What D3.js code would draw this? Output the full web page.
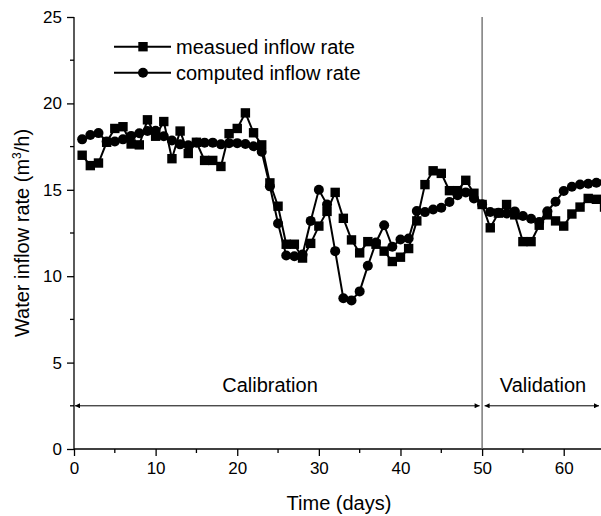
<!DOCTYPE html>
<html><head><meta charset="utf-8">
<script src="https://cdn.jsdelivr.net/npm/d3@7"></script>
<style>html,body{margin:0;padding:0;background:#fff;}svg{display:block;}text{font-family:Arial,"Liberation Sans",sans-serif;fill:#000;}</style>
</head><body>
<svg id="chart" width="601" height="516"></svg>
<script>
const days = d3.range(1, 66);
const measured = [17.0,16.4,16.55,17.75,18.55,18.65,17.65,17.6,19.05,18.1,18.95,16.8,18.4,17.1,17.75,16.7,16.7,16.35,18.25,18.55,19.45,18.3,17.6,15.4,14.05,11.85,11.85,11.05,11.9,12.9,13.75,14.85,13.35,12.1,11.35,12.0,11.85,11.45,10.85,11.1,11.6,13.2,15.3,16.1,15.95,14.95,14.95,15.55,14.8,14.15,12.8,13.65,14.15,13.55,12.0,12.0,12.95,13.55,13.2,12.9,13.6,14.0,14.5,14.45,14.0];
const computed = [17.92,18.17,18.28,17.8,17.8,17.92,18.12,18.27,18.4,18.42,18.1,17.85,17.63,17.58,17.73,17.73,17.73,17.63,17.7,17.7,17.65,17.52,17.2,15.2,13.05,11.2,11.15,11.25,13.2,15.0,14.15,11.45,8.72,8.6,9.12,10.6,11.95,12.95,11.7,12.12,12.18,13.77,13.71,13.86,13.96,14.29,14.69,14.85,14.5,14.17,13.72,13.67,13.63,13.75,13.48,13.32,13.13,13.76,14.31,14.93,15.18,15.31,15.35,15.41,15.43];
const xTicks = [0,10,20,30,40,50,60];
const xMinor = [5,15,25,35,45,55];
const yTicks = [0,5,10,15,20,25];
const yMinor = [2.5,7.5,12.5,17.5,22.5];
const seriesNames = ["measued inflow rate","computed inflow rate"];
const xTitle = "Time (days)";
const periods = [{name:"Calibration", from:0, to:50},{name:"Validation", from:50, to:65}];

const svg = d3.select("#chart");
const x = d3.scaleLinear().domain([0,65]).range([74, 74+65*8.162]);
const y = d3.scaleLinear().domain([0,25]).range([449,17]);

const defs = svg.append("defs");
defs.append("marker").attr("id","ah").attr("viewBox","0 0 10 10").attr("refX",10).attr("refY",5)
  .attr("markerWidth",6).attr("markerHeight",5).attr("markerUnits","userSpaceOnUse").attr("orient","auto-start-reverse")
  .append("path").attr("d","M0,0L10,5L0,10Z").attr("fill","#000");

const xAxis = svg.append("g").attr("transform",`translate(0,${y(0)})`)
  .call(d3.axisBottom(x).tickValues(xTicks).tickSize(7).tickPadding(6).tickFormat(d3.format("d")));
xAxis.select(".domain").attr("d",`M${x(0)},0H601`).attr("stroke","#000").attr("stroke-width",1.3);
xAxis.selectAll(".tick line").attr("stroke-width",1.3);
xAxis.selectAll("text").attr("font-size",17).attr("font-family","Arial, Liberation Sans");
svg.append("g").attr("transform",`translate(0,${y(0)})`).selectAll("line").data(xMinor).join("line")
  .attr("x1",d=>x(d)).attr("x2",d=>x(d)).attr("y1",0).attr("y2",4).attr("stroke","#000").attr("stroke-width",1.3);

const yAxis = svg.append("g").attr("transform",`translate(${x(0)},0)`)
  .call(d3.axisLeft(y).tickValues(yTicks).tickSize(7).tickPadding(5).tickFormat(d3.format("d")));
yAxis.select(".domain").attr("d",`M0,${y(0)}V${y(25)}`).attr("stroke","#000").attr("stroke-width",1.3);
yAxis.selectAll(".tick line").attr("stroke-width",1.3);
yAxis.selectAll("text").attr("font-size",17).attr("font-family","Arial, Liberation Sans");
svg.append("g").attr("transform",`translate(${x(0)},0)`).selectAll("line").data(yMinor).join("line")
  .attr("x1",0).attr("x2",-4).attr("y1",d=>y(d)).attr("y2",d=>y(d)).attr("stroke","#000").attr("stroke-width",1.3);

svg.append("line").attr("x1",x(50)).attr("x2",x(50)).attr("y1",y(25)).attr("y2",y(0))
  .attr("stroke","#666").attr("stroke-width",1.3);

periods.forEach((p,i)=>{
  const x1 = x(p.from)+(i===0?1:2.5), x2 = Math.min(x(p.to)-2.5, 599);
  svg.append("line").attr("x1",x1).attr("x2",x2).attr("y1",y(2.5)).attr("y2",y(2.5))
    .attr("stroke","#000").attr("stroke-width",1)
    .attr("marker-start","url(#ah)").attr("marker-end","url(#ah)");
});
svg.append("text").attr("x",270).attr("y",392).attr("text-anchor","middle").attr("font-size",20).text(periods[0].name);
svg.append("text").attr("x",543).attr("y",392).attr("text-anchor","middle").attr("font-size",20).text(periods[1].name);

const plot = svg.append("g");
const line = d3.line().x((d,i)=>x(days[i])).y(d=>y(d));
plot.append("path").datum(measured).attr("d",line).attr("fill","none").attr("stroke","#000").attr("stroke-width",2);
plot.append("path").datum(computed).attr("d",line).attr("fill","none").attr("stroke","#000").attr("stroke-width",2);
const hs = 4.7, cr = 5;
plot.selectAll("rect.m").data(measured).join("rect").attr("class","m")
  .attr("x",(d,i)=>x(days[i])-hs).attr("y",d=>y(d)-hs).attr("width",2*hs).attr("height",2*hs).attr("fill","#000");
plot.selectAll("circle.c").data(computed).join("circle").attr("class","c")
  .attr("cx",(d,i)=>x(days[i])).attr("cy",d=>y(d)).attr("r",cr).attr("fill","#000");

const lg = svg.append("g");
[46.7,72.7].forEach((ly,i)=>{
  lg.append("line").attr("x1",114).attr("x2",171).attr("y1",ly).attr("y2",ly).attr("stroke","#000").attr("stroke-width",2);
  if(i===0) lg.append("rect").attr("x",143-hs).attr("y",ly-hs).attr("width",2*hs).attr("height",2*hs).attr("fill","#000");
  else lg.append("circle").attr("cx",143).attr("cy",ly).attr("r",cr).attr("fill","#000");
  lg.append("text").attr("x",176).attr("y",ly+7).attr("font-size",20).text(seriesNames[i]);
});

svg.append("text").attr("x",339).attr("y",510).attr("text-anchor","middle").attr("font-size",20).text(xTitle);
const yt = svg.append("text").attr("transform","translate(29,233) rotate(-90)").attr("text-anchor","middle").attr("font-size",20);
yt.append("tspan").text("Water inflow rate (m");
yt.append("tspan").attr("font-size",12).attr("dy",-8).text("3");
yt.append("tspan").attr("dy",8).text("/h)");
</script>
</body></html>
